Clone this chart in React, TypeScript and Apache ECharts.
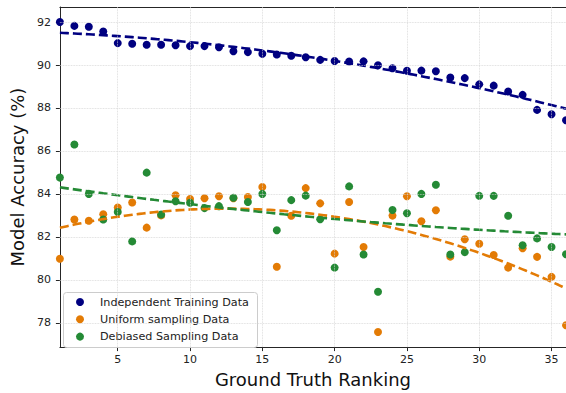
import React, { useEffect, useRef } from "react";
import * as echarts from "echarts";

const ranks = [1, 2, 3, 4, 5, 6, 7, 8, 9, 10, 11, 12, 13, 14, 15, 16, 17, 18, 19, 20, 21, 22, 23, 24, 25, 26, 27, 28, 29, 30, 31, 32, 33, 34, 35, 36];

const independentData = [92.0, 91.82, 91.78, 91.56, 91.02, 90.99, 90.94, 90.94, 90.92, 90.88, 90.88, 90.83, 90.64, 90.6, 90.52, 90.49, 90.43, 90.36, 90.24, 90.19, 90.16, 90.17, 89.99, 89.85, 89.73, 89.74, 89.71, 89.42, 89.39, 89.1, 89.04, 88.77, 88.61, 87.91, 87.71, 87.43];

const uniformData = [80.98, 82.81, 82.75, 83.05, 83.37, 83.6, 82.43, 83.0, 83.94, 83.76, 83.8, 83.89, 83.8, 83.86, 84.32, 80.61, 82.98, 84.27, 83.56, 81.22, 83.62, 81.53, 77.57, 82.99, 83.89, 82.73, 83.24, 81.08, 81.89, 81.68, 81.16, 80.57, 81.47, 81.07, 80.14, 77.89];

const debiasedData = [84.76, 86.3, 84.0, 82.81, 83.16, 81.79, 84.99, 83.04, 83.66, 83.59, 83.34, 83.43, 83.82, 83.62, 84.0, 82.31, 83.71, 83.92, 82.82, 80.57, 84.35, 81.18, 79.45, 83.25, 83.1, 84.0, 84.43, 81.18, 81.29, 83.91, 83.91, 82.98, 81.61, 81.93, 81.53, 81.19];

const seriesNames = ["Independent Training Data", "Uniform sampling Data", "Debiased Sampling Data"];
const seriesColors = ["#000080", "#e37b05", "#248a35"];

const xTicks = [5, 10, 15, 20, 25, 30, 35];
const yTicks = [78, 80, 82, 84, 86, 88, 90, 92];
const xRange = [1, 36];
const yRange = [76.87, 92.7];

function quadFit(xs: number[], ys: number[]) {
  const S = [0, 0, 0, 0, 0];
  const T = [0, 0, 0];
  for (let i = 0; i < xs.length; i++) {
    let p = 1;
    for (let k = 0; k < 5; k++) {
      S[k] += p;
      if (k < 3) T[k] += p * ys[i];
      p *= xs[i];
    }
  }
  const M = [
    [S[4], S[3], S[2], T[2]],
    [S[3], S[2], S[1], T[1]],
    [S[2], S[1], S[0], T[0]],
  ];
  for (let c = 0; c < 3; c++) {
    let piv = c;
    for (let r = c + 1; r < 3; r++) if (Math.abs(M[r][c]) > Math.abs(M[piv][c])) piv = r;
    [M[c], M[piv]] = [M[piv], M[c]];
    for (let r = 0; r < 3; r++) {
      if (r === c) continue;
      const f = M[r][c] / M[c][c];
      for (let k = c; k < 4; k++) M[r][k] -= f * M[c][k];
    }
  }
  const a = M[0][3] / M[0][0];
  const b = M[1][3] / M[1][1];
  const c = M[2][3] / M[2][2];
  return (x: number) => a * x * x + b * x + c;
}

function fitLine(ys: number[]) {
  const f = quadFit(ranks, ys);
  const pts: number[][] = [];
  for (let x = xRange[0]; x <= xRange[1] + 1e-9; x += 0.25) pts.push([x, f(x)]);
  return pts;
}

const FONT = "DejaVu Sans";

export default function App() {
  const ref = useRef<HTMLDivElement>(null);
  useEffect(() => {
    if (!ref.current) return;
    const chart = echarts.init(ref.current, null, { renderer: "svg" });
    const allData = [independentData, uniformData, debiasedData];
    const scatterSeries = allData.map((d, i) => ({
      type: "scatter",
      name: seriesNames[i],
      data: ranks.map((x, j) => [x, d[j]]),
      symbol: "circle",
      symbolSize: 8,
      itemStyle: { color: seriesColors[i], opacity: 1 },
      z: 2,
    }));
    const lineSeries = allData.map((d, i) => ({
      type: "line",
      name: seriesNames[i] + " fit",
      data: fitLine(d),
      showSymbol: false,
      symbol: "none",
      lineStyle: { color: seriesColors[i], width: 2.6, type: [9, 4] },
      z: 3,
      silent: true,
    }));
    const axisLabelStyle = { fontFamily: FONT, fontSize: 11, color: "#222" };
    chart.setOption({
      animation: false,
      backgroundColor: "#ffffff",
      grid: { left: 58, right: 0, top: 7, bottom: 40, containLabel: false },
      graphic: [
        {
          type: "rect",
          z: 1,
          silent: true,
          shape: { x: 63.5, y: 292.5, width: 194, height: 55, r: 3 },
          style: { fill: "rgba(255,255,255,0.8)", stroke: "#cccccc", lineWidth: 1 },
        },
      ],
      xAxis: [
        {
          type: "value",
          min: xRange[0],
          max: xRange[1],
          name: "Ground Truth Ranking",
          nameLocation: "middle",
          nameGap: 19,
          nameTextStyle: { fontFamily: FONT, fontSize: 18, color: "#111" },
          axisLine: { show: true, onZero: false, lineStyle: { color: "#262626", width: 1 } },
          axisTick: { show: true, length: 4, customValues: xTicks, lineStyle: { color: "#262626" } },
          axisLabel: { ...axisLabelStyle, margin: 7, customValues: xTicks },
          splitLine: { show: false },
        },
        {
          type: "value",
          position: "top",
          min: xRange[0],
          max: xRange[1],
          axisLine: { show: true, onZero: false, lineStyle: { color: "#262626", width: 1 } },
          axisTick: { show: false },
          axisLabel: { show: false },
          splitLine: { show: false },
        },
      ],
      yAxis: {
        type: "value",
        min: yRange[0],
        max: yRange[1],
        name: "Model Accuracy (%)",
        nameLocation: "middle",
        nameGap: 20,
        nameTextStyle: { fontFamily: FONT, fontSize: 18, color: "#111" },
        axisLine: { show: true, onZero: false, lineStyle: { color: "#262626", width: 1 } },
        axisTick: { show: true, length: 4, customValues: yTicks, lineStyle: { color: "#262626" } },
        axisLabel: { ...axisLabelStyle, margin: 9, customValues: yTicks },
        splitLine: { show: false },
      },
      legend: {
        data: seriesNames,
        orient: "vertical",
        left: 76,
        top: 295,
        padding: 0,
        itemGap: 3.3,
        itemWidth: 8,
        itemHeight: 8,
        icon: "circle",
        textStyle: { fontFamily: FONT, fontSize: 11.2, color: "#222", lineHeight: 14, padding: [0, 0, 0, 11] },
      },
      series: [
        {
          type: "line",
          name: "grid",
          data: [],
          z: 0,
          silent: true,
          markLine: {
            silent: true,
            symbol: ["none", "none"],
            label: { show: false },
            lineStyle: { color: "#d4d4d4", type: "dotted", width: 0.8 },
            data: [...xTicks.map((v) => ({ xAxis: v })), ...yTicks.map((v) => ({ yAxis: v }))],
          },
        },
        ...scatterSeries,
        ...lineSeries,
      ],
    });
    return () => chart.dispose();
  }, []);
  return <div ref={ref} style={{ position: "absolute", left: 0, top: 0, width: 566, height: 393 }} />;
}
